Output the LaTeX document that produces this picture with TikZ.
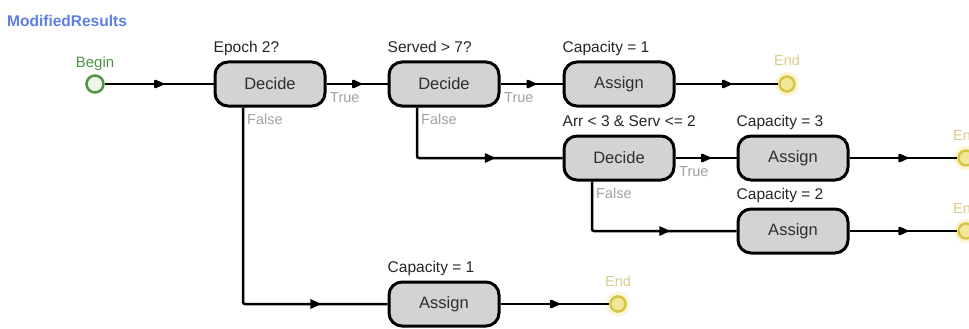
\documentclass[tikz,border=0pt]{standalone}
\usepackage{fontspec}
\setmainfont{Liberation Sans}
\usetikzlibrary{calc,decorations.markings}

\definecolor{boxfill}{HTML}{D3D3D3}
\definecolor{boxtext}{HTML}{2E2E2E}
\definecolor{labtext}{HTML}{262626}
\definecolor{graytext}{HTML}{A2A2A2}
\definecolor{titleblue}{HTML}{5C7FE0}
\definecolor{begingreen}{HTML}{4F9446}
\definecolor{beginfill}{HTML}{EEF7EA}
\definecolor{endstroke}{HTML}{D6C546}
\definecolor{endfill}{HTML}{F3E79A}
\definecolor{endglow}{HTML}{FBF5D2}
\definecolor{endtext}{HTML}{D9CD8A}

\begin{document}
\begin{tikzpicture}[x=1pt,y=-1pt,
  stepbox/.style={draw=black, line width=3pt, fill=boxfill, rounded corners=13pt,
    minimum width=110pt, minimum height=44pt, inner sep=0pt,
    font=\fontsize{16.5}{19}\selectfont, text=boxtext},
  toplab/.style={font=\fontsize{15.5}{18}\selectfont, text=labtext, anchor=base west, inner sep=0pt},
  graylab/.style={font=\fontsize{14.5}{17}\selectfont, text=graytext, anchor=base west, inner sep=0pt},
  startdot/.style={circle, draw=begingreen, fill=beginfill, line width=2.5pt,
    minimum size=17pt, inner sep=0pt},
  enddot/.style={circle, draw=endstroke, fill=endfill, line width=2.5pt,
    minimum size=15pt, inner sep=0pt, preaction={draw=endglow, line width=9pt}},
  startlab/.style={font=\fontsize{15}{18}\selectfont, text=begingreen, anchor=base, inner sep=0pt},
  endlab/.style={font=\fontsize{14.5}{17}\selectfont, text=endtext, anchor=base, inner sep=0pt},
  conn/.style={draw=black, line width=2.5pt, rounded corners=2pt},
  midarrow/.style={postaction={decorate}, decoration={markings,
    mark=at position 0.5 with {\fill[black] (6pt,0) -- (-5pt,5pt) -- (-5pt,-5pt) -- cycle;}}},
  flow/.style={conn, midarrow}
]
\useasboundingbox (0,0) rectangle (969,329);
\fill[white] (0,0) rectangle (969,329);
\clip (0,0) rectangle (969,329);

% heading
\node[anchor=west, inner sep=0pt, text=titleblue, font=\bfseries\fontsize{15.5}{18}\selectfont]
  (title) at (7,21) {ModifiedResults};

% start / end points
\node[startdot] (begin) at (95,84) {};
\node[enddot] (e1) at (787,84) {};
\node[enddot] (e2) at (966,158) {};
\node[enddot] (e3) at (966,231) {};
\node[enddot] (e4) at (618,304) {};

% steps
\node[stepbox] (d1) at (270,84) {Decide};
\node[stepbox] (d2) at (444,84) {Decide};
\node[stepbox] (a1) at (619,84) {Assign};
\node[stepbox] (d3) at (619,158) {Decide};
\node[stepbox] (a2) at (793,158) {Assign};
\node[stepbox] (a3) at (793,231) {Assign};
\node[stepbox] (a4) at (444,304) {Assign};

% captions above the steps
\node[toplab] (l1) at ($(d1.north west)+(0,8pt)$) {Epoch 2?};
\node[toplab] (l2) at ($(d2.north west)+(0,8pt)$) {Served > 7?};
\node[toplab] (l3) at ($(a1.north west)+(0,8pt)$) {Capacity = 1};
\node[toplab] (l4) at ($(d3.north west)+(0,8pt)$) {Arr < 3 \& Serv <= 2};
\node[toplab] (l5) at ($(a2.north west)+(0,8pt)$) {Capacity = 3};
\node[toplab] (l6) at ($(a3.north west)+(0,8pt)$) {Capacity = 2};
\node[toplab] (l7) at ($(a4.north west)+(0,8pt)$) {Capacity = 1};

\node[startlab] (lb) at ($(begin)+(0,17pt)$) {Begin};
\node[endlab] (le1) at ($(e1)+(0,18pt)$) {End};
\node[endlab] (le2) at ($(e2)+(0,18pt)$) {End};
\node[endlab] (le3) at ($(e3)+(0,18pt)$) {End};
\node[endlab] (le4) at ($(e4)+(0,18pt)$) {End};

% straight connectors
\draw[flow] (begin) -- (d1);
\draw[flow] (d1) -- (d2);
\draw[flow] (d2) -- (a1);
\draw[flow] (a1) -- (e1);
\draw[flow] (d3) -- (a2);
\draw[flow] (a2) -- (e2);
\draw[flow] (a3) -- (e3);
\draw[flow] (a4) -- (e4);

% "False" branches leave from the lower left of each decision
\coordinate (f1) at ($(d1.south west)+(29.5pt,0)$);
\coordinate (f2) at ($(d2.south west)+(29.5pt,0)$);
\coordinate (f3) at ($(d3.south west)+(29.5pt,0)$);
\coordinate (c1) at (f1 |- a4.west);
\coordinate (c2) at (f2 |- d3.west);
\coordinate (c3) at (f3 |- a3.west);
\draw[conn] (f1) -- (c1) -- (a4.west);
\draw[conn] (f2) -- (c2) -- (d3.west);
\draw[conn] (f3) -- (c3) -- (a3.west);
\path[midarrow] (c1) -- (a4.west);
\path[midarrow] (c2) -- (d3.west);
\path[midarrow] (c3) -- (a3.west);

% branch captions
\node[graylab] (t1) at ($(d1.east)+(3.5pt,-18pt)$) {True};
\node[graylab] (t2) at ($(d2.east)+(3.5pt,-18pt)$) {True};
\node[graylab] (t3) at ($(d3.east)+(3.5pt,-18pt)$) {True};
\node[graylab] (n1) at ($(f1)+(4pt,-17pt)$) {False};
\node[graylab] (n2) at ($(f2)+(4pt,-17pt)$) {False};
\node[graylab] (n3) at ($(f3)+(4pt,-17pt)$) {False};
\end{tikzpicture}
\end{document}
